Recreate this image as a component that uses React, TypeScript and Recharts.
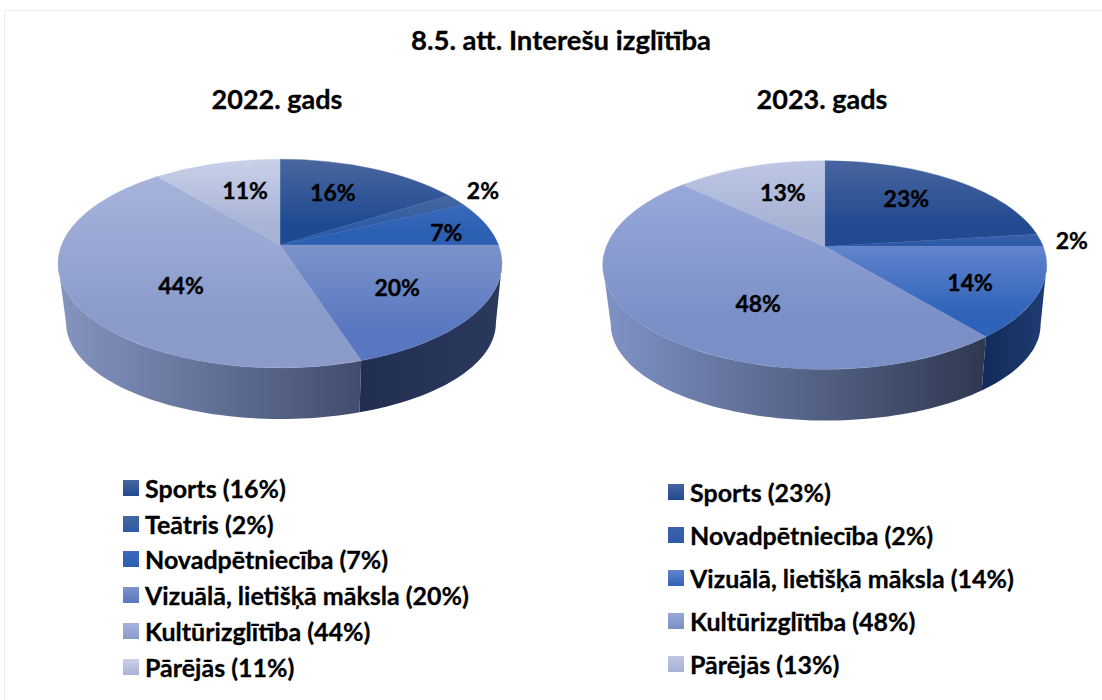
import React from "react";
import { PieChart, Pie, Legend } from "recharts";

const categories2022 = ["Sports", "Teātris", "Novadpētniecība", "Vizuālā, lietišķā māksla", "Kultūrizglītība", "Pārējās"];
const values2022 = [16, 2, 7, 20, 44, 11];
const categories2023 = ["Sports", "Novadpētniecība", "Vizuālā, lietišķā māksla", "Kultūrizglītība", "Pārējās"];
const values2023 = [23, 2, 14, 48, 13];

const faces2022 = [["#4a679f", "#1f4a92"], ["#44689f", "#2c5aa6"], ["#3a69bb", "#2b5fb2"], ["#7d93cb", "#5877c0"], ["#a6b3dc", "#8a9bca"], ["#c9d1e8", "#a9b3d6"]];
const faces2023 = [["#48659f", "#214a91"], ["#3c63a9", "#2d5aa8"], ["#6284cd", "#2f63b9"], ["#98a8da", "#7a8fc6"], ["#bec8e5", "#a7b1d3"]];
const walls2022 = [["#1f4a92", "#1f4a92"], ["#2c5aa6", "#2c5aa6"], ["#2b5fb2", "#2b5fb2"], ["#212e52", "#2b3a5c"], ["#8595c0", "#414c6e"], ["#a9b3d6", "#a9b3d6"]];
const walls2023 = [["#214a91", "#214a91"], ["#2d5aa8", "#2d5aa8"], ["#122a58", "#1f3d72"], ["#8093c6", "#2f3850"], ["#a7b1d3", "#a7b1d3"]];

const labelFractions2022 = [[0.58, 0.69], [1.15, 1.22], [0.81, 0.61], [0.594, 0.63], [0.473, 0.75], [0.55, 0.674]];
const labelFractions2023 = [[0.64, 0.727], [1.146, 1.05], [0.68, 0.76], [0.367, 0.716], [0.56, 0.685]];

const FONT = "Lato, Carlito, 'Noto Sans', sans-serif";
const LABEL_SIZE = 23;
const LEGEND_SIZE = 25;

const TILT = 0.47;
const APEX_LIFT = 0.177;
const WARP = 0.8365;
const LOW_RX = 0.968;
const LOW_RY = 0.4325;
const LOW_DY = 59.5;

const rad = (d: number) => (d * Math.PI) / 180;
const warp = (theta: number) => {
  const h = rad(theta / 2);
  if (Math.abs(Math.cos(h)) < 1e-6) return theta;
  let t = Math.atan(WARP * Math.tan(h));
  if (t < 0 && theta > 0) t += Math.PI;
  return (2 * t * 180) / Math.PI;
};

type Geo = { cx: number; cy: number; r: number };
const topRim = (g: Geo, t: number) => ({
  x: g.cx + g.r * Math.sin(rad(t)),
  y: g.cy - g.r * TILT * Math.cos(rad(t)),
});
const lowRim = (g: Geo, t: number) => ({
  x: g.cx + 1 + g.r * LOW_RX * Math.sin(rad(t)),
  y: g.cy + LOW_DY - g.r * LOW_RY * Math.cos(rad(t)),
});
const apexOf = (g: Geo) => ({ x: g.cx, y: g.cy - g.r * TILT * APEX_LIFT });

const makeShape = (prefix: string) => (props: any) => {
  const g: Geo = { cx: props.cx, cy: props.cy, r: props.outerRadius };
  const t1 = warp(90 - props.startAngle);
  const t2 = warp(90 - props.endAngle);
  const a = apexOf(g);
  const p1 = topRim(g, t1);
  const p2 = topRim(g, t2);
  const rx = g.r;
  const ry = g.r * TILT;
  const large = t2 - t1 > 180 ? 1 : 0;
  const face = `M${a.x},${a.y}L${p1.x},${p1.y}A${rx},${ry} 0 ${large} 1 ${p2.x},${p2.y}Z`;
  const w1 = Math.max(t1, 90);
  const w2 = Math.min(t2, 270);
  let wall = "";
  if (w2 > w1) {
    const up: string[] = [];
    const lo: string[] = [];
    const n = Math.max(2, Math.ceil((w2 - w1) / 2));
    for (let i = 0; i <= n; i++) {
      const t = w1 + ((w2 - w1) * i) / n;
      const u = topRim(g, t);
      const l = lowRim(g, t);
      up.push(`${u.x},${u.y}`);
      lo.unshift(`${l.x},${l.y}`);
    }
    wall = `M${up.join("L")}L${lo.join("L")}Z`;
  }
  return (
    <g>
      {wall && <path d={wall} fill={`url(#${prefix}-wall-${props.index})`} />}
      <path d={face} fill={props.fill} stroke={props.fill} strokeWidth={0.4} />
    </g>
  );
};

const makeLabel = (fractions: number[][]) => (props: any) => {
  const g: Geo = { cx: props.cx, cy: props.cy, r: props.outerRadius };
  const t = warp(90 - props.midAngle);
  const rim = topRim(g, t);
  const a = apexOf(g);
  const [fx, fy] = fractions[props.index];
  return (
    <text
      x={a.x + (rim.x - a.x) * fx}
      y={a.y + (rim.y - a.y) * fy}
      textAnchor="middle"
      dominantBaseline="central"
      fontFamily={FONT}
      fontWeight={700}
      fontSize={LABEL_SIZE}
      fill="#000"
      stroke="#000"
      strokeWidth={0.35}
    >
      {`${props.value}%`}
    </text>
  );
};

const makeLegend = (faces: string[][], rowHeight: number) => (props: any) => (
  <div>
    {(props.payload || []).map((e: any, i: number) => (
      <div key={i} style={{ height: rowHeight, display: "flex", alignItems: "center", whiteSpace: "nowrap" }}>
        <span
          style={{
            width: 16,
            height: 16,
            marginRight: 6,
            flex: "none",
            background: `linear-gradient(${faces[i][0]}, ${faces[i][1]})`,
          }}
        />
        <span style={{ fontFamily: FONT, fontWeight: 700, fontSize: LEGEND_SIZE, color: "#000", WebkitTextStroke: "0.3px #000" } as any}>{e.value}</span>
      </div>
    ))}
  </div>
);

const Gradients = ({ prefix, faces, walls }: { prefix: string; faces: string[][]; walls: string[][] }) => (
  <defs>
    {faces.map((c, i) => (
      <linearGradient key={i} id={`${prefix}-face-${i}`} x1="0" y1="0" x2="0" y2="1">
        <stop offset="0" stopColor={c[0]} />
        <stop offset="0.75" stopColor={c[1]} />
      </linearGradient>
    ))}
    {walls.map((c, i) => (
      <linearGradient key={i} id={`${prefix}-wall-${i}`} x1="0" y1="0" x2="1" y2="0">
        <stop offset="0" stopColor={c[0]} />
        <stop offset="1" stopColor={c[1]} />
      </linearGradient>
    ))}
  </defs>
);

const rows = (prefix: string, cats: string[], vals: number[]) =>
  cats.map((c, i) => ({ name: `${c} (${vals[i]}%)`, value: vals[i], fill: `url(#${prefix}-face-${i})` }));

const data2022 = rows("a", categories2022, values2022);
const data2023 = rows("b", categories2023, values2023);

const heading = (text: string, center: number, top: number, size: number): React.ReactElement => (
  <div
    style={{
      position: "absolute",
      left: center - 300,
      width: 600,
      top,
      textAlign: "center",
      fontFamily: FONT,
      fontWeight: 700,
      fontSize: size,
      lineHeight: "30px",
      color: "#000",
      WebkitTextStroke: "0.3px #000",
    } as any}
  >
    {text}
  </div>
);

export default function App() {
  return (
    <div style={{ position: "absolute", left: 0, top: 0, width: 1102, height: 700, background: "#fff", overflow: "hidden" }}>
      <div style={{ position: "absolute", left: 4, top: 10, width: 1098, height: 690, borderLeft: "1px solid #e6f0fa", borderTop: "1px solid #e6f0fa", boxSizing: "border-box" }} />
      {heading("8.5. att. Interešu izglītība", 561, 25, 27.5)}
      {heading("2022. gads", 277, 84, 27)}
      {heading("2023. gads", 822, 84, 27)}
      <div style={{ position: "absolute", left: 0, top: 0 }}>
        <PieChart width={551} height={700} margin={{ top: 0, right: 0, bottom: 0, left: 0 }}>
          <Gradients prefix="a" faces={faces2022} walls={walls2022} />
          <Pie
            data={data2022}
            dataKey="value"
            nameKey="name"
            cx={280}
            cy={263.5}
            outerRadius={222}
            startAngle={90}
            endAngle={-270}
            stroke="none"
            isAnimationActive={false}
            shape={makeShape("a")}
            label={makeLabel(labelFractions2022)}
            labelLine={false}
          />
          <Legend
            itemSorter={null}
            content={makeLegend(faces2022, 35.8)}
            wrapperStyle={{ position: "absolute", left: 123, top: 470, width: 420, bottom: "auto" }}
          />
        </PieChart>
      </div>
      <div style={{ position: "absolute", left: 551, top: 0 }}>
        <PieChart width={551} height={700} margin={{ top: 0, right: 0, bottom: 0, left: 0 }}>
          <Gradients prefix="b" faces={faces2023} walls={walls2023} />
          <Pie
            data={data2023}
            dataKey="value"
            nameKey="name"
            cx={273.7}
            cy={265}
            outerRadius={222}
            startAngle={90}
            endAngle={-270}
            stroke="none"
            isAnimationActive={false}
            shape={makeShape("b")}
            label={makeLabel(labelFractions2023)}
            labelLine={false}
          />
          <Legend
            itemSorter={null}
            content={makeLegend(faces2023, 43)}
            wrapperStyle={{ position: "absolute", left: 117, top: 470, width: 420, bottom: "auto" }}
          />
        </PieChart>
      </div>
    </div>
  );
}
